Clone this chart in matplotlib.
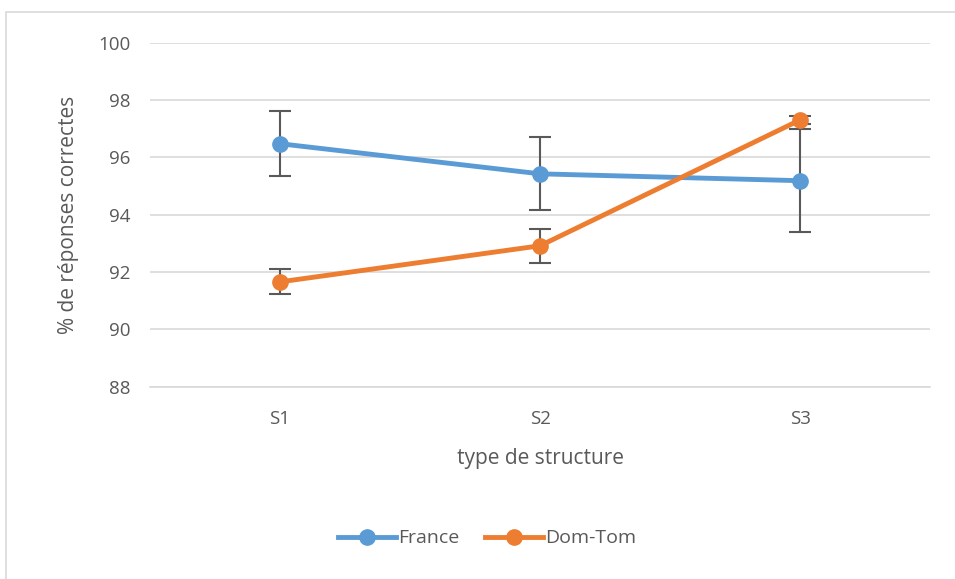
import matplotlib.pyplot as plt
from matplotlib.patches import Rectangle
import numpy as np

categories = ['S1', 'S2', 'S3']
france = [96.48, 95.43, 95.19]
france_err = [1.13, 1.27, 1.80]
domtom = [91.66, 92.92, 97.31]
domtom_err = [0.44, 0.60, 0.15]

blue = '#5B9BD5'
orange = '#ED7D31'
grey = '#595959'

plt.rcParams['font.family'] = ['Open Sans', 'DejaVu Sans']

fig = plt.figure(figsize=(9.55, 5.79), dpi=100)
ax = fig.add_axes([0.157, 0.332, 0.817, 0.594])

x = np.arange(len(categories))

for vals, errs, color, label in [(france, france_err, blue, 'France'),
                                 (domtom, domtom_err, orange, 'Dom-Tom')]:
    ax.errorbar(x, vals, yerr=errs, fmt='none', ecolor=grey, elinewidth=1.5,
                capsize=8, capthick=1.5, zorder=2)
    ax.plot(x, vals, color=color, linewidth=3.5, marker='o', markersize=11,
            label=label, zorder=3)

ax.set_xlim(-0.5, 2.5)
ax.set_ylim(88, 100)
ax.set_yticks(np.arange(88, 101, 2))
ax.set_xticks(x)
ax.set_xticklabels(categories)
ax.tick_params(axis='y', length=0, labelsize=13.5, colors=grey, pad=14)
ax.tick_params(axis='x', length=0, labelsize=13.5, colors=grey, pad=17)
ax.yaxis.grid(True, color='#D9D9D9', linewidth=1.2)
ax.set_axisbelow(True)
for s in ax.spines.values():
    s.set_visible(False)
ax.spines['bottom'].set_visible(True)
ax.spines['bottom'].set_color('#D9D9D9')
ax.spines['bottom'].set_linewidth(1.2)

ax.set_xlabel('type de structure', fontsize=15, color=grey, labelpad=14)
ax.set_ylabel('% de réponses correctes', fontsize=15, color=grey, labelpad=14)

leg = fig.legend(loc='center', bbox_to_anchor=(0.51, 0.07), ncol=2, frameon=False,
                 fontsize=14, handlelength=3.0, handletextpad=0.1, columnspacing=1.3)
for t in leg.get_texts():
    t.set_color(grey)

fig.patches.append(Rectangle((0.006, -0.01), 1.0, 0.99, transform=fig.transFigure,
                             fill=False, edgecolor='#D9D9D9', linewidth=1.2))

fig.savefig('out.png', dpi=100)
